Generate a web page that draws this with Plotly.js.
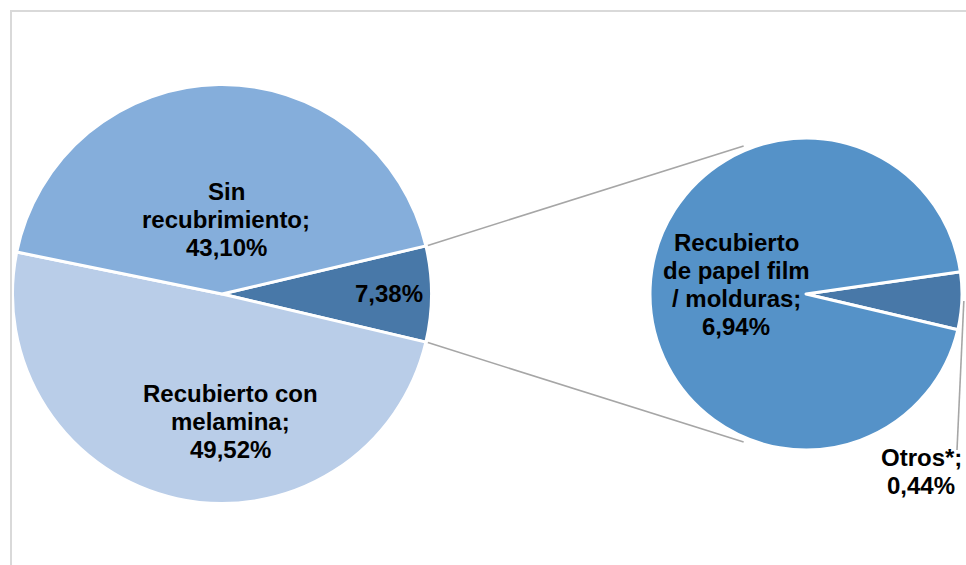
<!DOCTYPE html>
<html><head><meta charset="utf-8">
<script src="https://cdn.plot.ly/plotly-3.0.1.min.js"></script>
<style>html,body{margin:0;padding:0;background:#fff}</style>
</head><body><div id="chart" style="width:966px;height:565px"></div>
<script>
// ---- data ----
const mainLabels = ['Otros recubrimientos', 'Recubierto con melamina', 'Sin recubrimiento'];
const mainText = ['', 'Recubierto con\nmelamina', 'Sin\nrecubrimiento'];
const mainValues = [7.38, 49.52, 43.10];
const mainColors = ['#4878A8', '#B9CDE8', '#85AEDB'];

const subLabels = ['Otros*', 'Recubierto de papel film / molduras'];
const subText = ['Otros*', 'Recubierto\nde papel film\n/ molduras'];
const subValues = [0.44, 6.94];
const subColors = ['#4878A8', '#5592C8'];

// ---- layout geometry (pixels) ----
const W = 966, H = 565;
const mainPie = {cx: 222, cy: 294, r: 209.5};
const subPie = {cx: 806, cy: 294, r: 156};
const subRotation = 81.8;
const mainLabelPos = [[389, 293], [230, 421], [226, 220]];
const subLabelPos = [[921, 471], [736, 284.5]];
const lineGap = 28;

const fmt = v => v.toFixed(2).replace('.', ',') + '%';
const px = x => x / W, py = y => 1 - y / H;

function domainOf(p) {
  return {x: [px(p.cx - p.r), px(p.cx + p.r)], y: [py(p.cy + p.r), py(p.cy - p.r)]};
}

const mainTotal = mainValues.reduce((a, b) => a + b, 0);
const firstAngle = mainValues[0] / mainTotal * 360;
const mainRotation = 90 - firstAngle / 2;

const traces = [
  {type: 'pie', labels: mainLabels, values: mainValues, sort: false, direction: 'clockwise',
   rotation: mainRotation, domain: domainOf(mainPie), textinfo: 'none', hoverinfo: 'none',
   marker: {colors: mainColors, line: {color: '#FFFFFF', width: 3}}},
  {type: 'pie', labels: subLabels, values: subValues, sort: false, direction: 'clockwise',
   rotation: subRotation, domain: domainOf(subPie), textinfo: 'none', hoverinfo: 'none',
   marker: {colors: subColors, line: {color: '#FFFFFF', width: 3}}}
];

// labels
const annotations = [];
function addLabel(text, value, pos) {
  const lines = text ? text.split('\n') : [];
  if (lines.length) lines[lines.length - 1] += ';';
  lines.push(fmt(value));
  const n = lines.length;
  lines.forEach((ln, i) => {
    annotations.push({x: px(pos[0]), y: py(pos[1]), xref: 'paper', yref: 'paper',
      xanchor: 'center', yanchor: 'middle', showarrow: false, text: ln,
      yshift: -(i - (n - 1) / 2) * lineGap,
      font: {family: 'Liberation Sans, Arial, sans-serif', size: 24, color: '#000000', weight: 'bold'}});
  });
}
mainText.forEach((t, i) => addLabel(t, mainValues[i], mainLabelPos[i]));
subText.forEach((t, i) => addLabel(t, subValues[i], subLabelPos[i]));

// connector lines computed from geometry
function ptOn(p, angDeg, r) {
  const a = angDeg * Math.PI / 180;
  return [p.cx + r * Math.sin(a), p.cy - r * Math.cos(a)];
}
function tangent(P, C, R, upper) {
  const dx = P[0] - C.cx, dy = P[1] - C.cy;
  const d = Math.hypot(dx, dy);
  const phi = Math.atan2(dy, dx), al = Math.acos(R / d);
  const t1 = [C.cx + R * Math.cos(phi + al), C.cy + R * Math.sin(phi + al)];
  const t2 = [C.cx + R * Math.cos(phi - al), C.cy + R * Math.sin(phi - al)];
  const t = upper ? (t1[1] < t2[1] ? t1 : t2) : (t1[1] > t2[1] ? t1 : t2);
  const lx = t[0] - P[0], ly = t[1] - P[1], L = Math.hypot(lx, ly), s = (L - 15) / L;
  return [P[0] + lx * s, P[1] + ly * s];
}
const pUp = ptOn(mainPie, mainRotation, mainPie.r + 2);
const pDn = ptOn(mainPie, mainRotation + firstAngle, mainPie.r + 2);
const tUp = tangent(pUp, subPie, subPie.r + 4, true);
const tDn = tangent(pDn, subPie, subPie.r + 4, false);

const subTotal = subValues.reduce((a, b) => a + b, 0);
const otrosMid = subRotation + subValues[0] / subTotal * 180;
const oStart = ptOn(subPie, otrosMid, subPie.r + 2);

const lineStyle = {color: '#A6A6A6', width: 1.6};
const frame = {color: '#D9D9D9', width: 2};
const shapes = [
  {type: 'line', xref: 'paper', yref: 'paper', x0: px(10), y0: py(11), x1: px(966), y1: py(11), line: frame},
  {type: 'line', xref: 'paper', yref: 'paper', x0: px(11), y0: py(11), x1: px(11), y1: py(565), line: frame},
  {type: 'line', xref: 'paper', yref: 'paper', x0: px(pUp[0]), y0: py(pUp[1]), x1: px(tUp[0]), y1: py(tUp[1]), line: lineStyle},
  {type: 'line', xref: 'paper', yref: 'paper', x0: px(pDn[0]), y0: py(pDn[1]), x1: px(tDn[0]), y1: py(tDn[1]), line: lineStyle},
  {type: 'line', xref: 'paper', yref: 'paper', x0: px(oStart[0]), y0: py(oStart[1]), x1: px(957), y1: py(450), line: lineStyle}
];

const layout = {
  width: W, height: H, margin: {l: 0, r: 0, t: 0, b: 0},
  paper_bgcolor: '#FFFFFF', showlegend: false, hovermode: false,
  annotations: annotations, shapes: shapes
};
Plotly.newPlot('chart', traces, layout, {displayModeBar: false, staticPlot: true});
</script></body></html>
